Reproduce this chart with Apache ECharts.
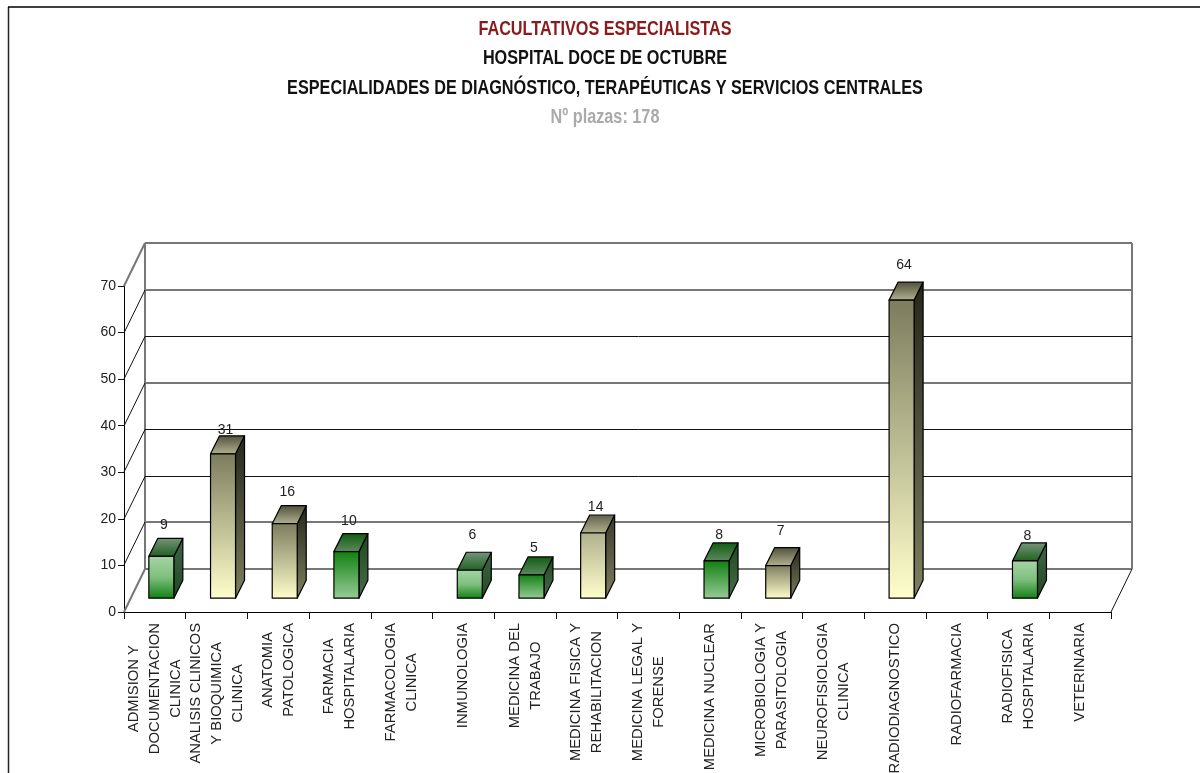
<!DOCTYPE html>
<html>
<head>
<meta charset="utf-8">
<title>Facultativos especialistas</title>
<script src="https://cdn.jsdelivr.net/npm/echarts@6/dist/echarts.min.js"></script>
<style>
    html, body { margin: 0; padding: 0; background: #fff; overflow: hidden; }
    #chart { width: 1200px; height: 773px; }
</style>
</head>
<body>
<div id="chart"></div>
<script>
// Data
const categories = [
    'ADMISION Y\nDOCUMENTACION\nCLINICA',
    'ANALISIS CLINICOS\nY BIOQUIMICA\nCLINICA',
    'ANATOMIA\nPATOLOGICA',
    'FARMACIA\nHOSPITALARIA',
    'FARMACOLOGIA\nCLINICA',
    'INMUNOLOGIA',
    'MEDICINA DEL\nTRABAJO',
    'MEDICINA FISICA Y\nREHABILITACION',
    'MEDICINA LEGAL Y\nFORENSE',
    'MEDICINA NUCLEAR',
    'MICROBIOLOGIA Y\nPARASITOLOGIA',
    'NEUROFISIOLOGIA\nCLINICA',
    'RADIODIAGNOSTICO',
    'RADIOFARMACIA',
    'RADIOFISICA\nHOSPITALARIA',
    'VETERINARIA'
];
const plazas = [9, 31, 16, 10, 0, 6, 5, 14, 0, 8, 7, 0, 64, 0, 8, 0];
const gridValues = [0, 10, 20, 30, 40, 50, 60, 70];
const titleLines = [
    'FACULTATIVOS ESPECIALISTAS',
    'HOSPITAL DOCE DE OCTUBRE',
    'ESPECIALIDADES DE DIAGNÓSTICO, TERAPÉUTICAS Y SERVICIOS CENTRALES',
    'Nº plazas: 178'
];

// Look of each bar, same order as the categories
const barLook = ['greenUp', 'olive', 'olive', 'greenDown', null, 'greenUp', 'greenDown', 'olivePale', null, 'greenDown', 'olive', null, 'olive', null, 'greenUp', null];
const labelLift = [15, 8, 16, 14, 0, 19, 11, 10, 0, 10, 18, 0, 19, 0, 9, 0];

const looks = {
    olive:     { front: ['#7c7c5e', '#ffffcc'], side: ['#26261b', '#7f7f60'], top: ['#4f4f3b', '#b3b391'] },
    olivePale: { front: ['#b0b08e', '#ffffcc'], side: ['#3a3a2a', '#7f7f60'], top: ['#5f5f48', '#b3b391'] },
    greenUp:   { front: ['#a6d4a6', '#7fbf7f', '#107f10'], side: ['#44644a', '#1e4a20'], top: ['#76967a', '#1f5f20'] },
    greenDown: { front: ['#108010', '#98cc98'], side: ['#1c4a1e', '#4a6a4c'], top: ['#0f5c10', '#5f8a60'] }
};

// Fake 3D geometry
const wallDx = 21, wallDy = -43.5;      // floor depth
const barDx = 6.5, barDy = -13.8;       // bar front, from the front of the floor
const barWidth = 25, sideDx = 9, sideDy = -18;
const greyLine = { stroke: '#777', lineWidth: 2 };
const blackLine = { stroke: '#111', lineWidth: 1 };
// Some wall lines come out heavier grey in the original, others thin black
const wallStyle = { 0: greyLine, 10: greyLine, 20: blackLine, 30: blackLine, 40: greyLine, 50: blackLine, 60: greyLine, 70: greyLine };

const axisFont = '"Liberation Sans", Arial, sans-serif';
const labelFontSize = 14.8;
const titleScale = 0.812;

function vGradient(colors) {
    return new echarts.graphic.LinearGradient(0, 0, 0, 1, colors.map((color, i) => ({
        offset: i / (colors.length - 1),
        color
    })));
}

function face(points, fill) {
    return {
        type: 'polygon',
        shape: { points },
        style: { fill, stroke: '#000', lineWidth: 1.2, lineJoin: 'round' }
    };
}

function line(x1, y1, x2, y2, style) {
    return { type: 'line', shape: { x1, y1, x2, y2 }, style };
}

// Back wall lines and the diagonals on the side wall
function renderWall(params, api) {
    const v = api.value(0);
    const y = Math.round(api.coord([0, v])[1]);
    const left = params.coordSys.x;
    const right = left + params.coordSys.width;
    const style = wallStyle[v];
    const backY = Math.round(y + wallDy) + (style === blackLine ? 0.5 : 0);
    const children = [
        line(left + wallDx, backY, right + wallDx, backY, style),
        line(left, y, left + wallDx, backY, v === 0 || v === 70 ? greyLine : blackLine)
    ];
    if (v === 0) {
        const top = Math.round(api.coord([0, 70])[1] + wallDy);
        children.push(line(left + wallDx, backY, left + wallDx, top, greyLine));
        children.push(line(right + wallDx, backY, right + wallDx, top, greyLine));
        children.push(line(right, y, right + wallDx, backY, blackLine));
    }
    return { type: 'group', silent: true, children };
}

function renderBar(params, api) {
    const i = api.value(0);
    const v = api.value(1);
    if (!v) return null;
    const look = looks[barLook[i]];
    const bottom = api.coord([i, 0]);
    const top = api.coord([i, v]);
    const x1 = bottom[0] - barWidth / 2 + barDx;
    const x2 = x1 + barWidth;
    const yb = bottom[1] + barDy;
    const yt = top[1] + barDy;
    return {
        type: 'group',
        silent: true,
        children: [
            face([[x2, yb], [x2 + sideDx, yb + sideDy], [x2 + sideDx, yt + sideDy], [x2, yt]], vGradient(look.side)),
            face([[x1, yt], [x2, yt], [x2 + sideDx, yt + sideDy], [x1 + sideDx, yt + sideDy]], vGradient(look.top)),
            face([[x1, yb], [x2, yb], [x2, yt], [x1, yt]], vGradient(look.front)),
            {
                type: 'text',
                x: x1 + barWidth / 2 + sideDx / 2 - 2,
                y: yt + sideDy - labelLift[i] + 2,
                style: {
                    text: String(v),
                    align: 'center',
                    verticalAlign: 'middle',
                    fontFamily: axisFont,
                    fontSize: 14,
                    fill: '#222'
                }
            }
        ]
    };
}

// Category labels: block starts under the axis, lines centred inside the block
const measure = document.createElement('canvas').getContext('2d');
measure.font = labelFontSize + 'px "Liberation Sans"';

function renderCategoryLabel(params, api) {
    const i = api.value(0);
    const name = categories[i];
    const longest = Math.max(...name.split('\n').map(s => measure.measureText(s).width));
    const p = api.coord([i, 0]);
    return {
        type: 'text',
        silent: true,
        x: p[0],
        y: p[1] + 11 + longest / 2,
        rotation: Math.PI / 2,
        style: {
            text: name,
            align: 'center',
            verticalAlign: 'middle',
            fontFamily: axisFont,
            fontSize: labelFontSize,
            lineHeight: 21,
            fill: '#222'
        }
    };
}

const titleColors = ['#8b1a1a', '#111', '#111', '#aaa'];
const titleY = [29, 58, 88, 117];

const chart = echarts.init(document.getElementById('chart'), null, { renderer: 'canvas' });

chart.setOption({
    animation: false,
    backgroundColor: '#fff',
    grid: { left: 124, right: 89, top: 286, bottom: 161, containLabel: false },
    xAxis: {
        type: 'category',
        data: categories,
        boundaryGap: true,
        axisLine: { lineStyle: { color: '#000', width: 1 } },
        axisTick: { show: true, interval: 0, length: 7, lineStyle: { color: '#111' } },
        axisLabel: { show: false }
    },
    yAxis: {
        type: 'value',
        min: 0,
        max: 70,
        interval: 10,
        axisLine: { show: true, lineStyle: { color: '#000', width: 1 } },
        axisTick: { show: true, length: 6, lineStyle: { color: '#111' } },
        axisLabel: { fontFamily: axisFont, fontSize: 14, color: '#222', margin: 8 },
        splitLine: { show: false }
    },
    graphic: [
        { type: 'line', silent: true, shape: { x1: 8.5, y1: 7, x2: 8.5, y2: 773 }, style: { stroke: '#222', lineWidth: 1.5 } },
        { type: 'line', silent: true, shape: { x1: 8, y1: 7, x2: 1200, y2: 7 }, style: { stroke: '#000', lineWidth: 1.5 } }
    ].concat(titleLines.map((text, i) => ({
        // no narrow font installed, so squeeze the bold one
        type: 'text',
        silent: true,
        x: 605,
        y: titleY[i],
        scaleX: titleScale,
        style: {
            text,
            align: 'center',
            verticalAlign: 'middle',
            fill: titleColors[i],
            fontFamily: axisFont,
            fontWeight: 'bold',
            fontSize: 20
        }
    }))),
    series: [
        {
            type: 'custom',
            coordinateSystem: 'cartesian2d',
            renderItem: renderWall,
            encode: { y: 0 },
            data: gridValues.map(v => [v]),
            z: 1
        },
        {
            type: 'custom',
            coordinateSystem: 'cartesian2d',
            renderItem: renderBar,
            encode: { x: 0, y: 1 },
            data: plazas.map((v, i) => [i, v]),
            z: 3
        },
        {
            type: 'custom',
            coordinateSystem: 'cartesian2d',
            renderItem: renderCategoryLabel,
            encode: { x: 0 },
            data: categories.map((c, i) => [i]),
            z: 3
        }
    ]
});
</script>
</body>
</html>
